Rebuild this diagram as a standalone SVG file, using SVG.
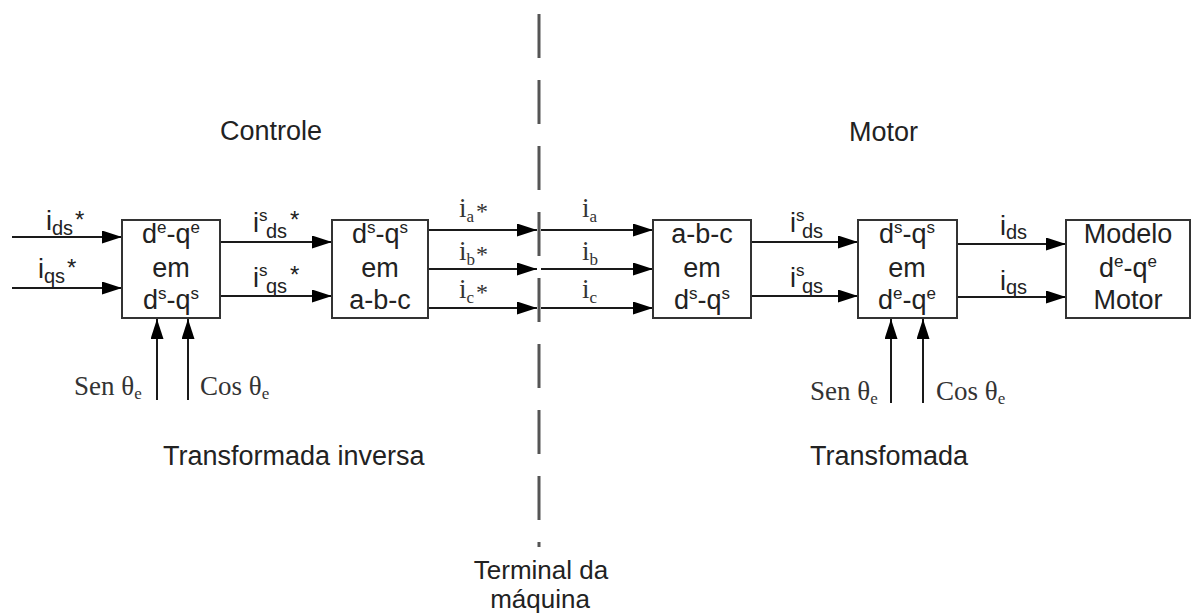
<svg xmlns="http://www.w3.org/2000/svg" width="1193" height="614" viewBox="0 0 1193 614">
<style>
.bg{fill:#fff}
.box{fill:#fff;stroke:#333;stroke-width:2}
.wire{fill:none;stroke:#1a1a1a;stroke-width:2;marker-end:url(#ah)}
.dash{stroke:#555;stroke-width:3;stroke-dasharray:44 22}
.sans{font-family:"Liberation Sans",Arial,sans-serif;font-size:27px;fill:#222}
.serif{font-family:"Liberation Serif","Times New Roman",serif;font-size:27px;fill:#333}
.c{text-anchor:middle}
.s{font-size:17px}
.sb{font-size:20px}
.term{font-size:26px}
</style>
<defs>
<marker id="ah" markerUnits="userSpaceOnUse" markerWidth="20" markerHeight="14" refX="20" refY="6.5" orient="auto">
<path d="M0,0 L20,6.5 L0,13 z" fill="#000"/>
</marker>
</defs>
<rect class="bg" x="0" y="0" width="1193" height="614"/>

<g id="titles">
<text class="sans" x="220" y="140">Controle</text>
<text class="sans" x="849" y="141">Motor</text>
<text class="sans" x="163" y="465">Transformada inversa</text>
<text class="sans" x="810" y="465">Transfomada</text>
<text class="sans c term" x="541" y="579">Terminal da</text>
<text class="sans c term" x="540" y="608">máquina</text>
</g>

<g id="terminal">
<line class="dash" x1="539" y1="14" x2="539" y2="547"/>
</g>

<g id="connectors">
<line class="wire" x1="12" y1="237" x2="122" y2="237"/>
<line class="wire" x1="12" y1="288" x2="122" y2="288"/>
<line class="wire" x1="220" y1="242" x2="332" y2="242"/>
<line class="wire" x1="220" y1="296" x2="332" y2="296"/>
<line class="wire" x1="428" y1="230" x2="537" y2="230"/>
<line class="wire" x1="428" y1="269" x2="537" y2="269"/>
<line class="wire" x1="428" y1="308" x2="537" y2="308"/>
<line class="wire" x1="541" y1="230" x2="653" y2="230"/>
<line class="wire" x1="541" y1="269" x2="653" y2="269"/>
<line class="wire" x1="541" y1="308" x2="653" y2="308"/>
<line class="wire" x1="751" y1="242" x2="858" y2="242"/>
<line class="wire" x1="751" y1="296" x2="858" y2="296"/>
<line class="wire" x1="957" y1="244" x2="1066" y2="244"/>
<line class="wire" x1="957" y1="297" x2="1066" y2="297"/>
<line class="wire" x1="157" y1="400" x2="157" y2="319"/>
<line class="wire" x1="188" y1="400" x2="188" y2="319"/>
<line class="wire" x1="891" y1="403" x2="891" y2="319"/>
<line class="wire" x1="923" y1="403" x2="923" y2="319"/>
</g>

<g id="labels">
<text class="sans" x="46" y="230">i<tspan class="sb" dy="5">ds</tspan><tspan x="75" y="228" font-size="24">*</tspan></text>
<text class="sans" x="38" y="278">i<tspan class="sb" dy="5">qs</tspan><tspan x="67" y="276" font-size="24">*</tspan></text>
<text class="sans" x="253" y="232">i<tspan class="s" x="259" y="221">s</tspan><tspan class="sb" x="266" y="238">ds</tspan><tspan x="290" y="228" font-size="24">*</tspan></text>
<text class="sans" x="253" y="287">i<tspan class="s" x="259" y="276">s</tspan><tspan class="sb" x="266" y="293">qs</tspan><tspan x="290" y="283" font-size="24">*</tspan></text>

<text class="serif" x="459" y="217">i<tspan class="s" dy="5">a</tspan><tspan x="476" y="219" font-size="24">*</tspan></text>
<text class="serif" x="459" y="260">i<tspan class="s" dy="5">b</tspan><tspan x="476" y="262" font-size="24">*</tspan></text>
<text class="serif" x="459" y="298">i<tspan class="s" dy="5">c</tspan><tspan x="476" y="300" font-size="24">*</tspan></text>
<text class="serif" x="582" y="217">i<tspan class="s" dy="5">a</tspan></text>
<text class="serif" x="582" y="260">i<tspan class="s" dy="5">b</tspan></text>
<text class="serif" x="582" y="298">i<tspan class="s" dy="5">c</tspan></text>

<text class="sans" x="790" y="232">i<tspan class="s" x="796" y="221">s</tspan><tspan class="sb" x="802" y="238">ds</tspan></text>
<text class="sans" x="790" y="287">i<tspan class="s" x="796" y="276">s</tspan><tspan class="sb" x="802" y="293">qs</tspan></text>
<text class="sans" x="1000" y="235">i<tspan class="sb" dy="4">ds</tspan></text>
<text class="sans" x="1000" y="290">i<tspan class="sb" dy="4">qs</tspan></text>

<text class="serif" x="74" y="395">Sen θ<tspan class="s" dy="4">e</tspan></text>
<text class="serif" x="200" y="395">Cos θ<tspan class="s" dy="4">e</tspan></text>
<text class="serif" x="810" y="400">Sen θ<tspan class="s" dy="4">e</tspan></text>
<text class="serif" x="936" y="400">Cos θ<tspan class="s" dy="4">e</tspan></text>
</g>

<g id="box1">
<rect class="box" x="122" y="220" width="98" height="98"/>
<text class="sans c" x="171" y="243">d<tspan class="s" dy="-10">e</tspan><tspan dy="10">-q</tspan><tspan class="s" dy="-10">e</tspan></text>
<text class="sans c" x="171" y="277">em</text>
<text class="sans c" x="171" y="309">d<tspan class="s" dy="-10">s</tspan><tspan dy="10">-q</tspan><tspan class="s" dy="-10">s</tspan></text>
</g>

<g id="box2">
<rect class="box" x="332" y="220" width="96" height="98"/>
<text class="sans c" x="380" y="243">d<tspan class="s" dy="-10">s</tspan><tspan dy="10">-q</tspan><tspan class="s" dy="-10">s</tspan></text>
<text class="sans c" x="380" y="277">em</text>
<text class="sans c" x="380" y="309">a-b-c</text>
</g>

<g id="box3">
<rect class="box" x="653" y="220" width="98" height="98"/>
<text class="sans c" x="702" y="243">a-b-c</text>
<text class="sans c" x="702" y="277">em</text>
<text class="sans c" x="702" y="309">d<tspan class="s" dy="-10">s</tspan><tspan dy="10">-q</tspan><tspan class="s" dy="-10">s</tspan></text>
</g>

<g id="box4">
<rect class="box" x="858" y="220" width="99" height="98"/>
<text class="sans c" x="907" y="243">d<tspan class="s" dy="-10">s</tspan><tspan dy="10">-q</tspan><tspan class="s" dy="-10">s</tspan></text>
<text class="sans c" x="907" y="277">em</text>
<text class="sans c" x="907" y="309">d<tspan class="s" dy="-10">e</tspan><tspan dy="10">-q</tspan><tspan class="s" dy="-10">e</tspan></text>
</g>

<g id="box5">
<rect class="box" x="1066" y="220" width="124" height="98"/>
<text class="sans c" x="1128" y="243">Modelo</text>
<text class="sans c" x="1128" y="277">d<tspan class="s" dy="-10">e</tspan><tspan dy="10">-q</tspan><tspan class="s" dy="-10">e</tspan></text>
<text class="sans c" x="1128" y="309">Motor</text>
</g>
</svg>
